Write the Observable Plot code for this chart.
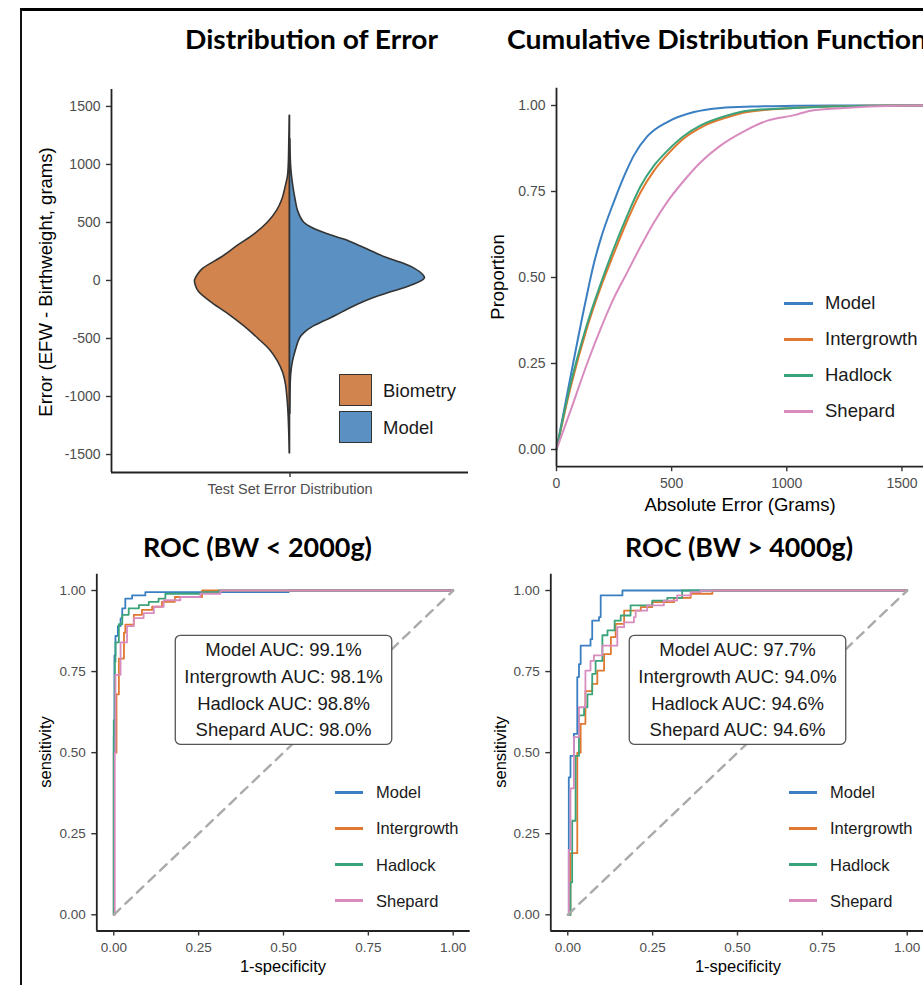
<!DOCTYPE html>
<html><head><meta charset="utf-8">
<script src="https://cdn.jsdelivr.net/npm/d3@7"></script>
<script src="https://cdn.jsdelivr.net/npm/@observablehq/plot@0.6"></script>
<style>
html,body{margin:0;padding:0;background:#fff;}
#root{position:relative;width:923px;height:985px;overflow:hidden;background:#fff;}
.frame{position:absolute;left:20px;top:8px;width:1000px;height:1100px;border-left:2px solid #111;border-top:3px solid #000;}
</style></head><body><div id="root"><div class="frame"></div></div>
<script>
// ---------------- data ----------------
const methods = ["Model", "Intergrowth", "Hadlock", "Shepard"];
const methodColors = ["#3A7FC1", "#E0782F", "#3BA37A", "#D88BBE"];

const violinGroups = ["Biometry", "Model"];
const violinColors = ["#D2844F", "#5A91C2"];
const violinCategory = "Test Set Error Distribution";
const violinTicks = [-1500, -1000, -500, 0, 500, 1000, 1500];

const biometryErr = [1420, 1300, 1200, 1100, 1000, 900, 800, 700, 600, 500, 400, 300, 200, 100, 50, 0, -50, -100, -200, -300, -400, -500, -600, -700, -800, -900, -1000, -1100, -1200, -1300, -1400, -1490];
const biometryDensity = [0.003, 0.005, 0.007, 0.009, 0.012, 0.02, 0.045, 0.075, 0.13, 0.22, 0.35, 0.52, 0.68, 0.87, 0.92, 0.95, 0.94, 0.91, 0.77, 0.60, 0.45, 0.32, 0.20, 0.12, 0.067, 0.04, 0.027, 0.018, 0.012, 0.008, 0.005, 0.003];
const modelErr = [1220, 1100, 1000, 900, 800, 700, 600, 500, 450, 400, 350, 300, 250, 200, 150, 100, 50, 20, 0, -50, -100, -150, -200, -250, -300, -350, -400, -450, -500, -600, -700, -800, -900, -1000, -1150];
const modelDensity = [0.003, 0.006, 0.01, 0.02, 0.035, 0.055, 0.08, 0.14, 0.23, 0.37, 0.55, 0.69, 0.82, 0.95, 1.12, 1.25, 1.33, 1.35, 1.33, 1.2, 1.02, 0.84, 0.70, 0.58, 0.47, 0.35, 0.23, 0.15, 0.10, 0.06, 0.03, 0.013, 0.007, 0.005, 0.003];

const cdfTicksX = [0, 500, 1000, 1500];
const propTicks = [0, 0.25, 0.5, 0.75, 1];
const cdfModelErr = [0, 46, 75, 126, 162, 191, 249, 307, 336, 394, 481, 597, 713, 850, 1032, 1200, 1650];
const cdfModelProp = [0, 0.16, 0.26, 0.43, 0.54, 0.61, 0.72, 0.815, 0.855, 0.91, 0.952, 0.981, 0.993, 0.997, 0.999, 1, 1];
const cdfIntergrowthErr = [0, 61, 133, 191, 249, 307, 365, 423, 481, 554, 626, 742, 829, 1032, 1177, 1496, 1650];
const cdfIntergrowthProp = [0, 0.18, 0.355, 0.47, 0.57, 0.665, 0.748, 0.81, 0.857, 0.905, 0.936, 0.966, 0.981, 0.993, 0.997, 1, 1];
const cdfHadlockErr = [0, 61, 133, 191, 249, 307, 365, 423, 481, 554, 626, 742, 829, 1032, 1249, 1496, 1650];
const cdfHadlockProp = [0, 0.19, 0.365, 0.48, 0.585, 0.68, 0.765, 0.825, 0.868, 0.912, 0.942, 0.971, 0.985, 0.993, 0.998, 1, 1];
const cdfShepardErr = [0, 61, 133, 191, 249, 307, 365, 423, 481, 554, 626, 713, 814, 916, 1032, 1104, 1249, 1467, 1650];
const cdfShepardProp = [0, 0.113, 0.25, 0.35, 0.44, 0.515, 0.59, 0.66, 0.72, 0.782, 0.835, 0.884, 0.925, 0.956, 0.972, 0.985, 0.993, 0.999, 1];

// ROC BW < 2000g
const rocLowModelFpr = [0, 0, 0.002, 0.005, 0.012, 0.02, 0.025, 0.034, 0.054, 0.093, 0.515, 1];
const rocLowModelTpr = [0, 0.55, 0.80, 0.86, 0.89, 0.914, 0.945, 0.975, 0.985, 0.995, 1, 1];
const rocLowIntergrowthFpr = [0, 0, 0.008, 0.015, 0.03, 0.034, 0.059, 0.083, 0.113, 0.142, 0.18, 0.26, 1];
const rocLowIntergrowthTpr = [0, 0.5, 0.68, 0.79, 0.87, 0.895, 0.925, 0.94, 0.95, 0.965, 0.98, 1, 1];
const rocLowHadlockFpr = [0, 0, 0.003, 0.005, 0.015, 0.025, 0.044, 0.074, 0.103, 0.132, 0.152, 0.26, 0.31, 1];
const rocLowHadlockTpr = [0, 0.6, 0.78, 0.84, 0.896, 0.925, 0.945, 0.955, 0.965, 0.975, 0.99, 0.995, 1, 1];
const rocLowShepardFpr = [0, 0.003, 0.005, 0.02, 0.039, 0.059, 0.088, 0.118, 0.147, 0.196, 0.255, 0.314, 1];
const rocLowShepardTpr = [0, 0.5, 0.74, 0.84, 0.89, 0.915, 0.93, 0.95, 0.97, 0.98, 0.99, 1, 1];

// ROC BW > 4000g
const rocHighModelFpr = [0, 0.003, 0.008, 0.018, 0.028, 0.033, 0.038, 0.067, 0.072, 0.092, 0.097, 0.161, 1];
const rocHighModelTpr = [0, 0.424, 0.49, 0.558, 0.733, 0.773, 0.83, 0.85, 0.907, 0.918, 0.985, 1, 1];
const rocHighIntergrowthFpr = [0, 0.008, 0.028, 0.038, 0.052, 0.072, 0.087, 0.107, 0.127, 0.141, 0.166, 0.215, 0.249, 0.313, 0.362, 0.426, 1];
const rocHighIntergrowthTpr = [0, 0.19, 0.5, 0.589, 0.69, 0.712, 0.753, 0.804, 0.856, 0.897, 0.938, 0.949, 0.964, 0.977, 0.99, 1, 1];
const rocHighHadlockFpr = [0, 0.008, 0.013, 0.023, 0.033, 0.048, 0.058, 0.072, 0.082, 0.102, 0.117, 0.138, 0.156, 0.185, 0.249, 0.293, 0.337, 1];
const rocHighHadlockTpr = [0, 0.1, 0.29, 0.49, 0.615, 0.64, 0.68, 0.743, 0.783, 0.862, 0.877, 0.907, 0.923, 0.954, 0.969, 0.977, 1, 1];
const rocHighShepardFpr = [0, 0.003, 0.008, 0.018, 0.033, 0.052, 0.067, 0.077, 0.102, 0.146, 0.166, 0.195, 0.2, 0.234, 0.283, 0.322, 0.362, 0.391, 1];
const rocHighShepardTpr = [0, 0.2, 0.39, 0.548, 0.64, 0.753, 0.783, 0.8, 0.83, 0.887, 0.902, 0.918, 0.938, 0.954, 0.969, 0.985, 0.995, 1, 1];

const rocTicks = [0, 0.25, 0.5, 0.75, 1];
const diagonal = [0, 1];
const aucLow = [99.1, 98.1, 98.8, 98.0];
const aucHigh = [97.7, 94.0, 94.6, 94.6];
const aucLabelPos = [0.5, 0.70];

// ---------------- helpers ----------------
const FONT = "'Liberation Sans', Arial, Helvetica, sans-serif";
const TFONT = "Lato, 'Open Sans', sans-serif";
const root = document.getElementById("root");
const axisColor = "#222", tickColor = "#333", labelGray = "#4d4d4d";

function zipRows(xs, ys, kx, ky, extra) {
  return xs.map((v, i) => ({[kx]: v, [ky]: ys[i], ...extra}));
}
function place(svg, left, top) {
  svg.style.position = "absolute";
  svg.style.left = left + "px";
  svg.style.top = top + "px";
  svg.style.maxWidth = "none";
  root.appendChild(svg);
  return svg;
}
function axes({xMin, yMin, xTicks, yTicks, xFmt, yFmt, fs, xfs}) {
  return [
    Plot.ruleX([xMin], {stroke: axisColor, strokeWidth: 1.8}),
    Plot.ruleY([yMin], {stroke: axisColor, strokeWidth: 1.8}),
    Plot.axisY({ticks: yTicks, tickSize: 5, tickFormat: () => "", stroke: tickColor, strokeWidth: 1.4, label: null}),
    Plot.axisY({ticks: yTicks, tickSize: 0, tickPadding: 11, tickFormat: yFmt, fontSize: fs, color: labelGray, label: null}),
    Plot.axisX({ticks: xTicks, tickSize: 5, tickFormat: () => "", stroke: tickColor, strokeWidth: 1.4, label: null}),
    Plot.axisX({ticks: xTicks, tickSize: 0, tickPadding: 11, tickFormat: xFmt, fontSize: xfs || fs, color: labelGray, label: null})
  ];
}
const baseStyle = {background: "transparent", fontFamily: FONT, overflow: "visible"};

// ---------------- panel 1: violin ----------------
const bioRows = zipRows(biometryErr, biometryDensity, "err", "dens", {group: violinGroups[0]});
const modRows = zipRows(modelErr, modelDensity, "err", "dens", {group: violinGroups[1]});
const vio = Plot.plot({
  width: 470, height: 520,
  marginLeft: 111, marginRight: 2, marginTop: 89, marginBottom: 48,
  x: {domain: [-1.785, 1.785], label: null},
  y: {domain: [-1655, 1646], label: null},
  style: baseStyle,
  marks: [
    Plot.areaX(bioRows, {y: "err", x1: d => -d.dens, x2: () => 0, fill: violinColors[0], stroke: "#333", strokeWidth: 1.6, curve: "catmull-rom"}),
    Plot.areaX(modRows, {y: "err", x1: () => 0, x2: "dens", fill: violinColors[1], stroke: "#333", strokeWidth: 1.6, curve: "catmull-rom"}),
    ...axes({xMin: -1.785, yMin: -1655, xTicks: [0], yTicks: violinTicks, xFmt: () => violinCategory, yFmt: d => String(d), fs: 14, xfs: 14.5})
  ]
});
place(vio, 0, 0);

// ---------------- panel 2: CDF ----------------
const cdfRows = [
  ...zipRows(cdfModelErr, cdfModelProp, "err", "prop", {method: methods[0]}),
  ...zipRows(cdfIntergrowthErr, cdfIntergrowthProp, "err", "prop", {method: methods[1]}),
  ...zipRows(cdfHadlockErr, cdfHadlockProp, "err", "prop", {method: methods[2]}),
  ...zipRows(cdfShepardErr, cdfShepardProp, "err", "prop", {method: methods[3]})
];
const cdf = Plot.plot({
  width: 466, height: 520,
  marginLeft: 86, marginRight: 0, marginTop: 87.8, marginBottom: 53.8,
  x: {domain: [0, 1650], label: null},
  y: {domain: [-0.05, 1.05], label: null},
  color: {domain: methods, range: methodColors},
  style: baseStyle,
  marks: [
    ...methods.map(m => Plot.line(cdfRows.filter(d => d.method === m), {x: "err", y: "prop", stroke: "method", strokeWidth: 2, curve: "monotone-x"})),
    ...axes({xMin: 0, yMin: -0.05, xTicks: cdfTicksX, yTicks: propTicks, xFmt: d => String(d), yFmt: d3.format(".2f"), fs: 14})
  ]
});
place(cdf, 470, 0);

// ---------------- panels 3/4: ROC ----------------
function rocPlot(series, auc, width, mLeft, mRight) {
  const rows = [];
  series.forEach((s, i) => rows.push(...zipRows(s[0], s[1], "fpr", "tpr", {method: methods[i]})));
  const label = [{x: aucLabelPos[0], y: aucLabelPos[1], text: methods.map((m, i) => `${m} AUC: ${auc[i].toFixed(1)}%`).join("\n")}];
  const svg = Plot.plot({
    width, height: 465,
    marginLeft: mLeft, marginRight: mRight, marginTop: 53.8, marginBottom: 54.5,
    x: {domain: [-0.05, 1.05], label: null},
    y: {domain: [-0.05, 1.05], label: null},
    color: {domain: methods, range: methodColors},
    style: baseStyle,
    marks: [
      ...methods.map(m => Plot.line(rows.filter(d => d.method === m), {x: "fpr", y: "tpr", stroke: "method", strokeWidth: 1.8, curve: "step-after"})),
      Plot.line(diagonal, {x: d => d, y: d => d, stroke: "#aaaaaa", strokeWidth: 2.4, strokeDasharray: "9,7"}),
      ...axes({xMin: -0.05, yMin: -0.05, xTicks: rocTicks, yTicks: rocTicks, xFmt: d3.format(".2f"), yFmt: d3.format(".2f"), fs: 13.5}),
      Plot.text(label, {x: "x", y: "y", text: "text", fontSize: 18.5, lineHeight: 1.44, fill: "#1a1a1a", fontFamily: FONT})
    ]
  });
  return svg;
}
function addLabelBox(svg) {
  const g = svg.querySelector('g[aria-label="text"]');
  if (!g) return;
  const bb = g.getBBox();
  const r = document.createElementNS("http://www.w3.org/2000/svg", "rect");
  const px = 9, py = 4;
  r.setAttribute("x", bb.x - px); r.setAttribute("y", bb.y - py);
  r.setAttribute("width", bb.width + 2 * px); r.setAttribute("height", bb.height + 2 * py);
  r.setAttribute("rx", 5); r.setAttribute("fill", "#fff");
  r.setAttribute("stroke", "#555"); r.setAttribute("stroke-width", 1.3);
  g.insertBefore(r, g.firstChild);
}
const rocL = rocPlot([
  [rocLowModelFpr, rocLowModelTpr], [rocLowIntergrowthFpr, rocLowIntergrowthTpr],
  [rocLowHadlockFpr, rocLowHadlockTpr], [rocLowShepardFpr, rocLowShepardTpr]
], aucLow, 470, 96.3, 0.3);
place(rocL, 0, 520); addLabelBox(rocL);
const rocR = rocPlot([
  [rocHighModelFpr, rocHighModelTpr], [rocHighIntergrowthFpr, rocHighIntergrowthTpr],
  [rocHighHadlockFpr, rocHighHadlockTpr], [rocHighShepardFpr, rocHighShepardTpr]
], aucHigh, 460, 80.3, 6.3);
place(rocR, 470, 520); addLabelBox(rocR);

// ---------------- legends (HTML) ----------------
function div(css, text) {
  const d = document.createElement("div");
  d.style.cssText = "position:absolute;" + css;
  if (text != null) d.textContent = text;
  root.appendChild(d);
  return d;
}
function lineLegend(keyX, keyW, labelX, y0, step, fs) {
  methods.forEach((m, i) => {
    const yc = y0 + i * step;
    div(`left:${keyX}px;top:${yc - 1.5}px;width:${keyW}px;height:3px;background:${methodColors[i]};`);
    div(`left:${labelX}px;top:${yc}px;transform:translateY(-50%);font-size:${fs}px;font-family:${FONT};color:#1a1a1a;line-height:1;white-space:nowrap;`, m);
  });
}
lineLegend(784, 29, 825, 303, 36, 18.5);
lineLegend(335, 28, 376, 792, 36.3, 16.5);
lineLegend(789, 28, 830, 792, 36.3, 16.5);
violinGroups.forEach((g, i) => {
  const top = 374 + i * 36.5;
  div(`left:339px;top:${top}px;width:31px;height:30px;background:${violinColors[i]};border:1.6px solid #333;`);
  div(`left:383px;top:${top + 17}px;transform:translateY(-50%);font-size:18.5px;font-family:${FONT};color:#1a1a1a;line-height:1;white-space:nowrap;`, g);
});

// ---------------- titles & axis titles (SVG text) ----------------
const NS = "http://www.w3.org/2000/svg";
const ov = document.createElementNS(NS, "svg");
ov.setAttribute("width", 1000); ov.setAttribute("height", 985);
ov.style.cssText = "position:absolute;left:0;top:0;overflow:visible;pointer-events:none;";
root.appendChild(ov);
function txt(s, x, y, o) {
  const t = document.createElementNS(NS, "text");
  t.textContent = s;
  t.setAttribute("x", 0); t.setAttribute("y", 0);
  t.setAttribute("transform", `translate(${x},${y})` + (o.rot ? " rotate(-90)" : ""));
  t.setAttribute("text-anchor", o.anchor || "middle");
  t.setAttribute("font-family", o.font || FONT);
  t.setAttribute("font-size", o.fs);
  if (o.bold) t.setAttribute("font-weight", "bold");
  t.setAttribute("fill", o.fill || "#000");
  if (o.len) { t.setAttribute("textLength", o.len); t.setAttribute("lengthAdjust", "spacingAndGlyphs"); }
  ov.appendChild(t);
}
const T = {font: TFONT, fs: 27, bold: true};
txt("Distribution of Error", 311.5, 49, {...T, len: 253});
txt("Cumulative Distribution Function", 507, 48.5, {...T, anchor: "start", len: 420});
txt("ROC (BW < 2000g)", 257.5, 556.5, {...T, len: 229});
txt("ROC (BW > 4000g)", 739, 556.5, {...T, len: 228});
txt("Error (EFW - Birthweight, grams)", 52, 282, {fs: 18.5, rot: true});
txt("Proportion", 504, 277, {fs: 18.5, rot: true});
txt("Absolute Error (Grams)", 740, 511, {fs: 18.5});
txt("1-specificity", 283, 972, {fs: 16.5});
txt("1-specificity", 738, 972, {fs: 16.5});
txt("sensitivity", 51, 752, {fs: 16.5, rot: true});
txt("sensitivity", 506, 752, {fs: 16.5, rot: true});
</script>
</body></html>
